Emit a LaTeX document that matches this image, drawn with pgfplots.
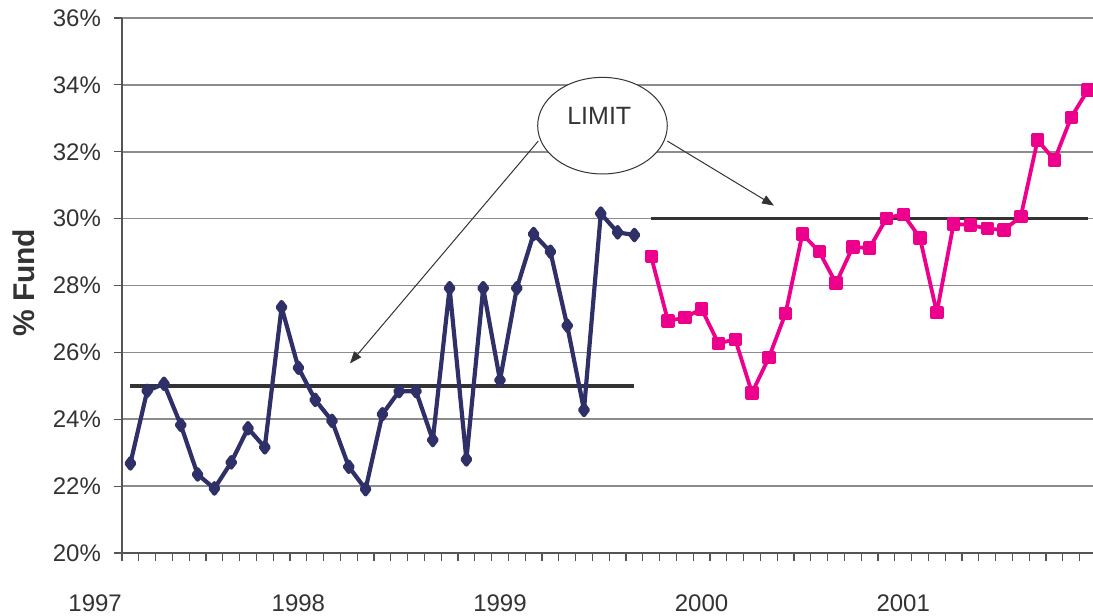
\documentclass[border=0pt]{standalone}
\usepackage{pgfplots}
\pgfplotsset{compat=1.18}
\usepackage{fontspec}
\setmainfont{Liberation Sans}
\usetikzlibrary{arrows.meta}

\definecolor{navy}{HTML}{2F3068}
\definecolor{fundpink}{HTML}{EC008C}
\definecolor{limitgray}{HTML}{333333}
\definecolor{gridgray}{HTML}{8C8C8C}
\definecolor{txt}{HTML}{333333}
\definecolor{axisgray}{HTML}{555555}

\begin{document}
\begin{tikzpicture}[
  year/.style={font=\fontsize{12}{14}\selectfont, text=txt, inner sep=0pt,
    anchor=base, yshift=-29pt},
]
\begin{axis}[
  scale only axis,
  width=487.2pt, height=267.5pt,
  xmin=-0.5, xmax=57.5,
  ymin=20, ymax=36,
  axis x line=bottom, axis y line=left,
  axis line style={draw=axisgray, line width=0.6pt, -},
  xtick={-0.5,0.5,...,57.5}, xticklabels={},
  ytick={20,22,...,36},
  yticklabels={20\%,22\%,24\%,26\%,28\%,30\%,32\%,34\%,36\%},
  tick align=outside, major tick length=4pt,
  tick style={draw=axisgray, line width=0.6pt},
  ymajorgrids,
  grid style={draw=gridgray, line width=0.8pt},
  yticklabel style={font=\fontsize{12}{14}\selectfont, text=txt, xshift=-3pt},
  ylabel={\% Fund},
  ylabel style={font=\bfseries\fontsize{15}{18}\selectfont, text=txt,
    at={(axis description cs:-0.1006,0.505)}, anchor=center},
  clip=false,
]

% limit levels
\addplot[limitgray, line width=1.8pt] coordinates {(0,25) (30,25)};
\addplot[limitgray, line width=1.8pt] coordinates {(31,30) (57,30)};

% fund share, first period
\addplot[navy, line width=2.1pt, line join=round, mark=diamond*, mark size=2.6pt] coordinates {
  (0,22.68) (1,24.85) (2,25.06) (3,23.83) (4,22.35) (5,21.93) (6,22.71)
  (7,23.73) (8,23.16) (9,27.35) (10,25.54) (11,24.58) (12,23.95) (13,22.58)
  (14,21.91) (15,24.15) (16,24.84) (17,24.84) (18,23.38) (19,27.92) (20,22.80)
  (21,27.92) (22,25.17) (23,27.92) (24,29.54) (25,29.01) (26,26.80) (27,24.28)
  (28,30.15) (29,29.59) (30,29.51)
};

% fund share, second period
\addplot[fundpink, line width=1.9pt, line join=round, mark=square*, mark size=2.4pt] coordinates {
  (31,28.86) (32,26.94) (33,27.04) (34,27.30) (35,26.27) (36,26.39) (37,24.79)
  (38,25.84) (39,27.17) (40,29.54) (41,29.01) (42,28.07) (43,29.15) (44,29.12)
  (45,30.01) (46,30.13) (47,29.42) (48,27.19) (49,29.84) (50,29.81) (51,29.70)
  (52,29.66) (53,30.06) (54,32.35) (55,31.75) (56,33.03) (57,33.85)
};

% year labels
\node[year] at (axis cs:-2.1,20) {1997};
\node[year] at (axis cs:10,20) {1998};
\node[year] at (axis cs:22,20) {1999};
\node[year] at (axis cs:34,20) {2000};
\node[year] at (axis cs:46,20) {2001};

% callout
\draw[draw=txt, line width=0.5pt, fill=white] (axis cs:28.1,32.78) ellipse [x radius=32.4pt, y radius=24.15pt];
\node[font=\fontsize{12.5}{15}\selectfont, text=txt] at (axis cs:27.91,33.08) {LIMIT};
\draw[draw=txt, line width=0.5pt, -{Triangle[length=6pt,width=4.5pt]}]
  (axis cs:24.28,32.32) -- (axis cs:13.07,25.67);
\draw[draw=txt, line width=0.5pt, -{Triangle[length=6pt,width=4.5pt]}]
  (axis cs:31.96,32.32) -- (axis cs:38.31,30.39);
\end{axis}
\pgfresetboundingbox
\path[use as bounding box] (-61pt,-31.5pt) rectangle (485.5pt,276.5pt);
\end{tikzpicture}
\end{document}
